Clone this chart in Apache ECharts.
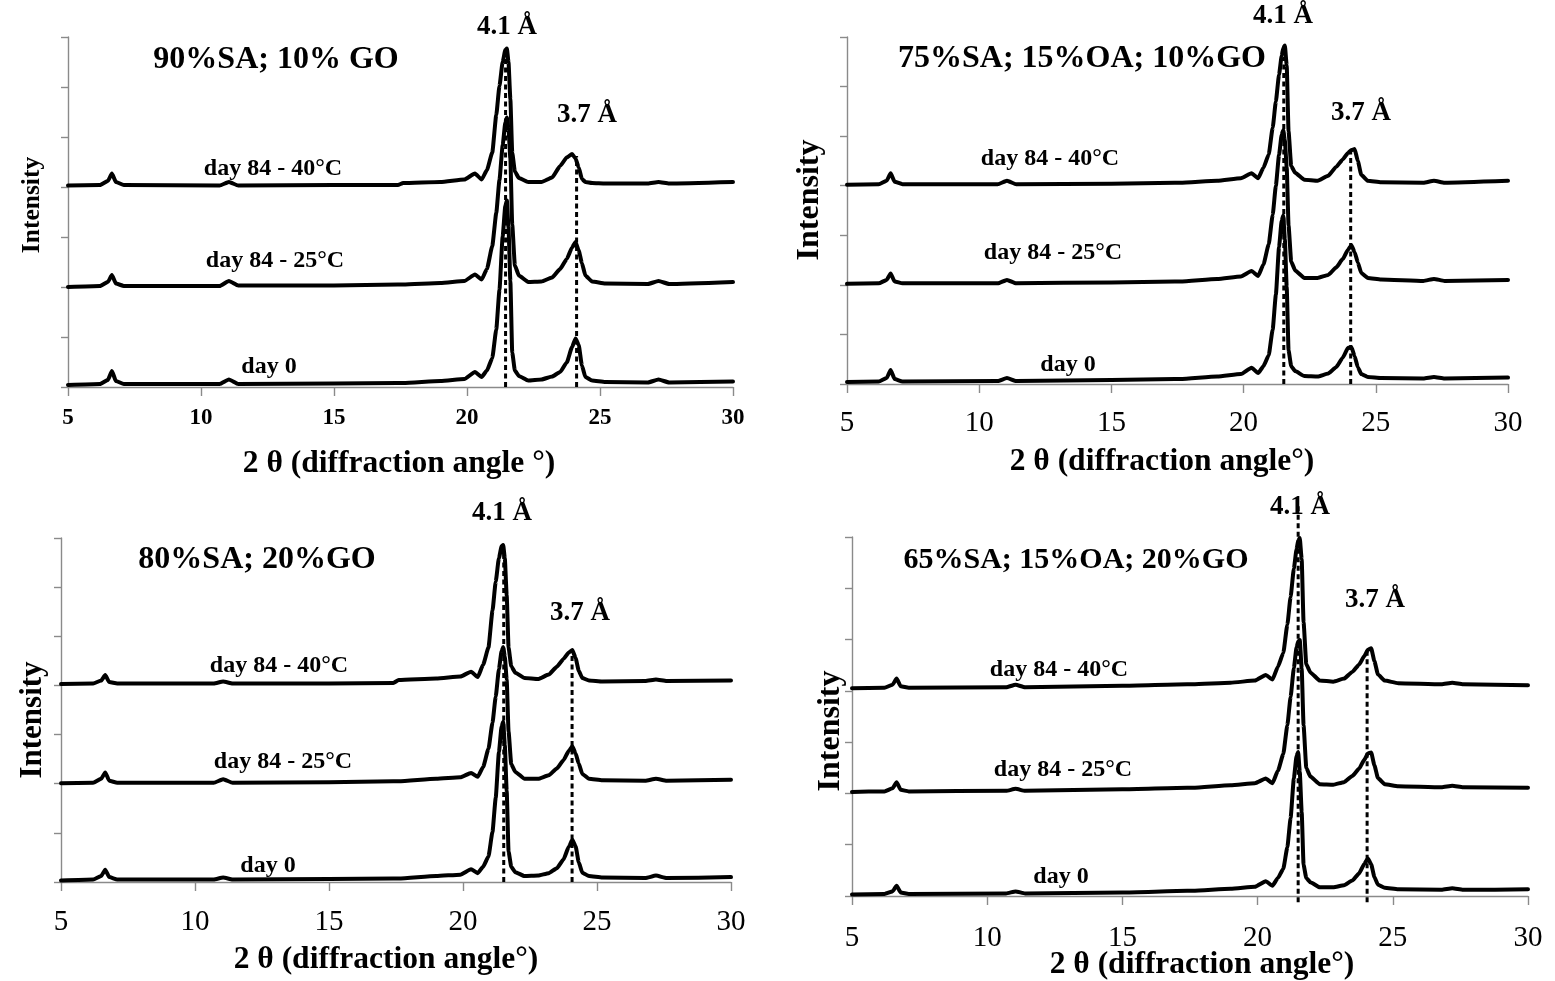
<!DOCTYPE html>
<html>
<head>
<meta charset="utf-8">
<script src="https://cdn.jsdelivr.net/npm/echarts@6/dist/echarts.min.js"></script>
<style>
  html, body { margin: 0; padding: 0; background: #ffffff; }
  #chart { width: 1555px; height: 981px; }
</style>
</head>
<body>
<div id="chart"></div>
<script>
// Diffraction angles (2θ, degrees) shared by every scan
const angles = [5.0, 6.2, 6.5, 6.65, 6.8, 7.1, 10.7, 11.05, 11.4, 15.0, 17.4, 17.6, 19.0, 19.9, 20.3, 20.55,
                20.75, 20.95, 21.1, 21.22, 21.34, 21.44, 21.5, 21.56, 21.63, 21.7, 21.8, 21.95, 22.3,
                22.8, 23.2, 23.5, 23.75, 23.95, 24.08, 24.2, 24.32, 24.45, 24.7, 25.2, 26.8, 27.2, 27.6, 30.0];

// 90%SA; 10% GO (offset stacked intensities)
const saGo10Day0  = [0.04, 0.06, 0.14, 0.32, 0.12, 0.06, 0.06, 0.15, 0.06, 0.07, 0.08, 0.08, 0.12, 0.16, 0.30, 0.20,
                     0.33, 0.58, 1.15, 1.94, 3.01, 3.62, 3.73, 3.19, 2.12, 0.69, 0.33, 0.22, 0.13,
                     0.15, 0.21, 0.30, 0.49, 0.80, 0.97, 0.84, 0.43, 0.20, 0.13, 0.10, 0.09, 0.15, 0.09, 0.11];
const saGo10Day25 = [2.00, 2.02, 2.10, 2.24, 2.07, 2.02, 2.02, 2.12, 2.03, 2.03, 2.05, 2.05, 2.08, 2.12, 2.25, 2.15,
                     2.36, 2.82, 3.48, 4.14, 4.83, 5.29, 5.39, 5.16, 4.57, 3.25, 2.43, 2.23, 2.10,
                     2.11, 2.19, 2.36, 2.56, 2.79, 2.90, 2.73, 2.48, 2.23, 2.11, 2.07, 2.06, 2.12, 2.06, 2.10];
const saGo10Day40 = [4.03, 4.04, 4.12, 4.27, 4.10, 4.04, 4.03, 4.10, 4.03, 4.04, 4.04, 4.08, 4.10, 4.15, 4.27, 4.15,
                     4.34, 4.69, 5.44, 6.02, 6.50, 6.74, 6.77, 6.50, 5.76, 4.69, 4.31, 4.18, 4.10,
                     4.10, 4.19, 4.42, 4.59, 4.66, 4.57, 4.39, 4.16, 4.10, 4.08, 4.07, 4.07, 4.10, 4.07, 4.10];

// 75%SA; 15%OA; 10%GO
const saOaGo10Day0  = [0.04, 0.05, 0.12, 0.28, 0.10, 0.05, 0.06, 0.12, 0.06, 0.08, 0.10, 0.10, 0.15, 0.20, 0.33, 0.22,
                       0.36, 0.58, 1.10, 1.80, 2.76, 3.30, 3.40, 2.92, 1.96, 0.68, 0.36, 0.26, 0.16,
                       0.15, 0.21, 0.34, 0.53, 0.73, 0.74, 0.56, 0.34, 0.20, 0.14, 0.12, 0.11, 0.14, 0.11, 0.13];
const saOaGo10Day25 = [2.02, 2.03, 2.10, 2.23, 2.07, 2.03, 2.03, 2.10, 2.03, 2.05, 2.07, 2.07, 2.12, 2.17, 2.28, 2.18,
                       2.41, 2.82, 3.41, 4.00, 4.62, 5.03, 5.12, 4.91, 4.38, 3.20, 2.47, 2.29, 2.14,
                       2.14, 2.20, 2.35, 2.52, 2.71, 2.80, 2.66, 2.45, 2.24, 2.14, 2.11, 2.08, 2.12, 2.08, 2.10];
const saOaGo10Day40 = [4.02, 4.03, 4.10, 4.25, 4.08, 4.03, 4.03, 4.10, 4.03, 4.04, 4.06, 4.06, 4.10, 4.15, 4.25, 4.15,
                       4.36, 4.63, 5.17, 5.70, 6.24, 6.62, 6.78, 6.83, 6.43, 5.10, 4.40, 4.26, 4.12,
                       4.10, 4.20, 4.38, 4.53, 4.66, 4.72, 4.74, 4.50, 4.22, 4.10, 4.07, 4.06, 4.10, 4.06, 4.10];

// 80%SA; 20%GO
const saGo20Day0  = [0.03, 0.05, 0.12, 0.25, 0.10, 0.05, 0.05, 0.09, 0.05, 0.06, 0.07, 0.07, 0.12, 0.15, 0.26, 0.18,
                     0.31, 0.52, 1.02, 1.71, 2.64, 3.17, 3.26, 2.79, 1.86, 0.62, 0.31, 0.20, 0.12,
                     0.13, 0.18, 0.28, 0.46, 0.72, 0.86, 0.73, 0.40, 0.19, 0.12, 0.09, 0.08, 0.13, 0.08, 0.10];
const saGo20Day25 = [2.01, 2.02, 2.10, 2.23, 2.06, 2.02, 2.02, 2.09, 2.02, 2.03, 2.05, 2.05, 2.10, 2.13, 2.22, 2.14,
                     2.34, 2.71, 3.24, 3.77, 4.33, 4.70, 4.78, 4.59, 4.12, 3.06, 2.40, 2.24, 2.10,
                     2.10, 2.17, 2.31, 2.48, 2.67, 2.76, 2.62, 2.41, 2.20, 2.10, 2.07, 2.06, 2.10, 2.06, 2.08];
const saGo20Day40 = [4.03, 4.04, 4.10, 4.21, 4.07, 4.04, 4.04, 4.08, 4.04, 4.04, 4.05, 4.11, 4.14, 4.18, 4.28, 4.17,
                     4.42, 4.77, 5.52, 6.11, 6.59, 6.83, 6.86, 6.59, 5.84, 4.77, 4.39, 4.26, 4.15,
                     4.13, 4.22, 4.38, 4.54, 4.67, 4.72, 4.56, 4.30, 4.15, 4.10, 4.08, 4.09, 4.12, 4.09, 4.10];

// 65%SA; 15%OA; 20%GO
const saOaGo20Day0  = [0.03, 0.04, 0.09, 0.20, 0.07, 0.04, 0.05, 0.09, 0.05, 0.07, 0.10, 0.10, 0.14, 0.18, 0.29, 0.20,
                       0.35, 0.53, 0.95, 1.52, 2.29, 2.73, 2.81, 2.42, 1.64, 0.61, 0.35, 0.27, 0.17,
                       0.17, 0.21, 0.30, 0.44, 0.63, 0.73, 0.62, 0.37, 0.22, 0.16, 0.13, 0.12, 0.15, 0.12, 0.13];
const saOaGo20Day25 = [2.03, 2.04, 2.10, 2.22, 2.07, 2.04, 2.05, 2.09, 2.05, 2.08, 2.11, 2.11, 2.16, 2.20, 2.29, 2.20,
                       2.44, 2.77, 3.33, 3.88, 4.44, 4.85, 4.96, 4.99, 4.44, 3.33, 2.50, 2.33, 2.18,
                       2.17, 2.22, 2.34, 2.48, 2.66, 2.78, 2.80, 2.55, 2.30, 2.18, 2.14, 2.12, 2.15, 2.12, 2.11];
const saOaGo20Day40 = [4.05, 4.06, 4.12, 4.24, 4.09, 4.06, 4.07, 4.12, 4.07, 4.10, 4.13, 4.13, 4.16, 4.20, 4.31, 4.22,
                       4.47, 4.74, 5.29, 5.83, 6.38, 6.76, 6.93, 6.98, 6.57, 5.34, 4.52, 4.36, 4.20,
                       4.18, 4.24, 4.37, 4.51, 4.68, 4.80, 4.83, 4.58, 4.32, 4.20, 4.15, 4.13, 4.16, 4.13, 4.11];

// Reflection markers per panel: [angle, lower intensity, upper intensity]
const d41Lines = [[21.45, 0, 6.6], [21.52, 0, 6.6], [21.52, 0, 6.7], [21.50, -0.12, 7.65]];
const d37Lines = [[24.12, 0, 4.62], [24.05, 0, 4.72], [24.07, 0, 4.7], [24.05, -0.12, 4.8]];

const panelTitles = ['90%SA; 10% GO', '75%SA; 15%OA; 10%GO', '80%SA; 20%GO', '65%SA; 15%OA; 20%GO'];
const scanLabels = ['day 84 - 40°C', 'day 84 - 25°C', 'day 0'];
const xTitles = ['2 θ (diffraction angle °)', '2 θ (diffraction angle°)', '2 θ (diffraction angle°)', '2 θ (diffraction angle°)'];
const xTicks = [5, 10, 15, 20, 25, 30];

const scans = [
  [saGo10Day40, saGo10Day25, saGo10Day0],
  [saOaGo10Day40, saOaGo10Day25, saOaGo10Day0],
  [saGo20Day40, saGo20Day25, saGo20Day0],
  [saOaGo20Day40, saOaGo20Day25, saOaGo20Day0]
];

// Plot frames and text placement of the four panels
const layout = [
  { grid: { left: 68, top: 37, width: 665, height: 350 }, tickFont: { size: 23, weight: 'bold', margin: 20 },
    yName: { x: 32, y: 205, size: 25.5 }, xName: { x: 399, y: 464, size: 31.5 },
    title: { x: 276, y: 60, size: 32 }, d41: { x: 507, y: 27 }, d37: { x: 587, y: 115 },
    scanPos: [[273, 169], [275, 261], [269, 367]] },
  { grid: { left: 847, top: 37, width: 661, height: 347 }, tickFont: { size: 29, weight: 'normal', margin: 25 },
    yName: { x: 810, y: 200, size: 32 }, xName: { x: 1162, y: 462, size: 31.5 },
    title: { x: 1082, y: 59, size: 32 }, d41: { x: 1283, y: 16 }, d37: { x: 1361, y: 113 },
    scanPos: [[1050, 159], [1053, 253], [1068, 365]] },
  { grid: { left: 61, top: 538, width: 670, height: 344 }, tickFont: { size: 29, weight: 'normal', margin: 26 },
    yName: { x: 33, y: 720, size: 31 }, xName: { x: 386, y: 960, size: 31.5 },
    title: { x: 257, y: 560, size: 32 }, d41: { x: 502, y: 513 }, d37: { x: 580, y: 613 },
    scanPos: [[279, 666], [283, 762], [268, 866]] },
  { grid: { left: 852, top: 537, width: 676, height: 359 }, tickFont: { size: 29, weight: 'normal', margin: 28 },
    yName: { x: 831, y: 731, size: 32 }, xName: { x: 1202, y: 965, size: 31.5 },
    title: { x: 1076, y: 560, size: 30 }, d41: { x: 1300, y: 507 }, d37: { x: 1375, y: 600 },
    scanPos: [[1059, 670], [1063, 770], [1061, 877]] }
];

const FONT = '"Liberation Serif", "Times New Roman", serif';
const AXIS_GREY = '#8a8a8a';

const grids = [], xAxes = [], yAxes = [], series = [], graphics = [];

layout.forEach((p, i) => {
  grids.push(p.grid);
  xAxes.push({
    gridIndex: i, type: 'value', min: 5, max: 30, interval: 5,
    axisLine: { show: true, onZero: false, lineStyle: { color: AXIS_GREY, width: 1.4 } },
    axisTick: { show: true, inside: false, length: 9, lineStyle: { color: AXIS_GREY, width: 1.4 } },
    axisLabel: {
      show: true, margin: p.tickFont.margin, fontFamily: FONT, fontSize: p.tickFont.size,
      fontWeight: p.tickFont.weight, color: '#000',
      formatter: v => xTicks.includes(v) ? String(v) : ''
    },
    splitLine: { show: false }
  });
  yAxes.push({
    gridIndex: i, type: 'value', min: 0, max: 7, interval: 1,
    axisLine: { show: true, lineStyle: { color: AXIS_GREY, width: 1.4 } },
    axisTick: { show: true, inside: false, length: 7, lineStyle: { color: AXIS_GREY, width: 1.4 } },
    axisLabel: { show: false },
    splitLine: { show: false }
  });

  scans[i].forEach((vals, k) => {
    series.push({
      type: 'line', xAxisIndex: i, yAxisIndex: i, name: scanLabels[k],
      data: angles.map((a, j) => [a, vals[j]]),
      symbol: 'none', smooth: 0.15, smoothMonotone: 'x', silent: true, z: 3,
      lineStyle: { color: '#000', width: 4, join: 'round', cap: 'round' }
    });
  });

  [d41Lines[i], d37Lines[i]].forEach(m => {
    series.push({
      type: 'line', xAxisIndex: i, yAxisIndex: i,
      data: [[m[0], m[1]], [m[0], m[2]]],
      symbol: 'none', silent: true, clip: false, z: 4,
      lineStyle: { color: '#000', width: 3, type: [5, 3.5] }
    });
  });

  const txt = (x, y, text, size, extra) => Object.assign({
    type: 'text', x, y, silent: true, z: 10,
    style: { text, fontFamily: FONT, fontSize: size, fontWeight: 'bold', fill: '#000',
             align: 'center', verticalAlign: 'middle' }
  }, extra || {});

  graphics.push(txt(p.title.x, p.title.y, panelTitles[i], p.title.size));
  graphics.push(txt(p.d41.x, p.d41.y, '4.1 Å', 27));
  graphics.push(txt(p.d37.x, p.d37.y, '3.7 Å', 27));
  p.scanPos.forEach((pos, k) => graphics.push(txt(pos[0], pos[1], scanLabels[k], 24)));
  graphics.push(txt(p.xName.x, p.xName.y, xTitles[i], p.xName.size));
  graphics.push(txt(p.yName.x, p.yName.y, 'Intensity', p.yName.size, { rotation: Math.PI / 2 }));
});

const chart = echarts.init(document.getElementById('chart'), null, { renderer: 'canvas' });
chart.setOption({
  animation: false,
  backgroundColor: '#ffffff',
  grid: grids,
  xAxis: xAxes,
  yAxis: yAxes,
  series: series,
  graphic: graphics
});
</script>
</body>
</html>
